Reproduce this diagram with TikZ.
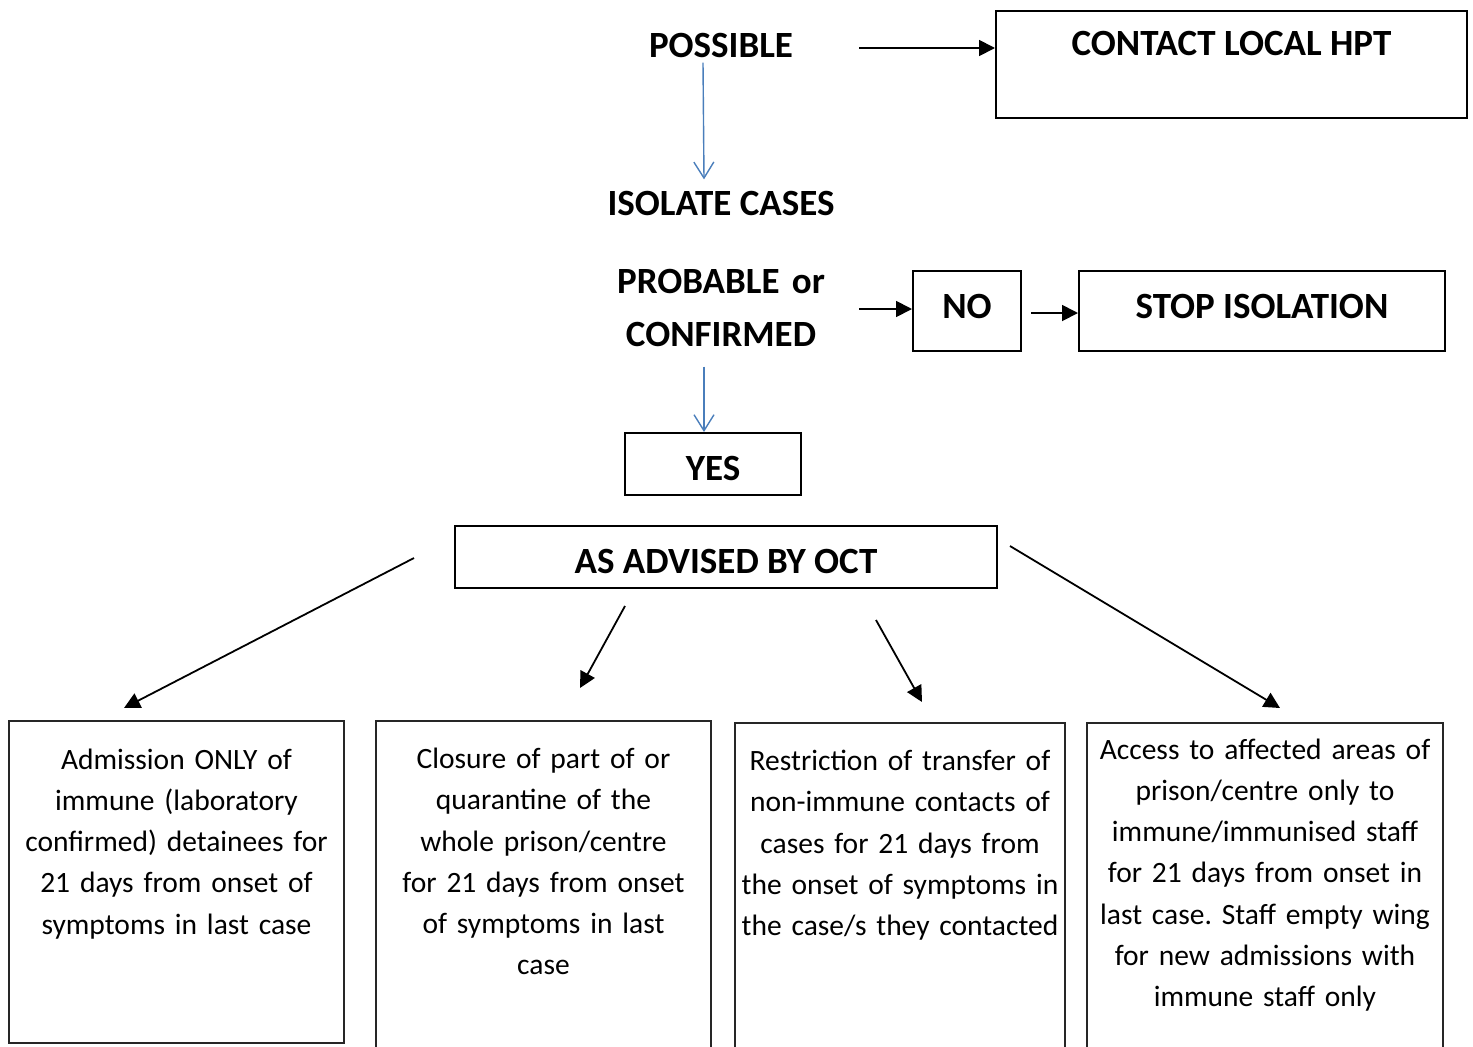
\documentclass[tikz,border=0pt]{standalone}
\usepackage{fontspec}
\setmainfont{Carlito}
\usetikzlibrary{arrows.meta, positioning, calc}
\definecolor{wordblue}{RGB}{74, 126, 187}
\frenchspacing

\newcommand{\stagefont}{\fontsize{18.5}{26.5}\selectfont\bfseries}
\newcommand{\measurefont}{\fontsize{14.75}{20.6}\selectfont}

\tikzset{
  stage/.style={font=\stagefont, inner sep=0pt, anchor=base},
  stagebox/.style={draw, line width=1pt, font=\stagefont, inner sep=0pt, anchor=north, text height=23.5pt},
  measure/.style={draw=black!85, line width=0.75pt, font=\measurefont, inner sep=0pt, anchor=north, align=center},
  flow/.style={-{Triangle[length=8pt, width=8pt]}, line width=0.9pt},
  bluestep/.style={-{Straight Barb[length=8pt, width=10pt]}, wordblue, line width=0.7pt}
}

\begin{document}
\begin{tikzpicture}[x=0.5pt, y=-0.5pt]
  \useasboundingbox (0,0) rectangle (1473,1046);

  % Case status
  \node[stage] (possible) at (721,57) {POSSIBLE};
  \node[stagebox, minimum width=235.5pt, text height=22pt, text depth=31.5pt] (contact) at (1231.5,10) {CONTACT LOCAL HPT};
  \node[stage] (isolate) at (721,215) {ISOLATE CASES};
  \node[stage, text width=104pt, align=center] (probable) at (721,293) {PROBABLE or\\CONFIRMED};
  \node[stagebox, minimum width=54pt, text depth=16.5pt] (no) at (967,270) {NO};
  \node[stagebox, minimum width=183pt, text depth=16.5pt] (stop) at (1262,270) {STOP ISOLATION};
  \node[stagebox, minimum width=88pt, text depth=7.5pt] (yes) at (713,432) {YES};
  \node[stagebox, minimum width=271pt, text depth=7.5pt] (oct) at (726,525) {AS ADVISED BY OCT};

  % Control measures
  \node[measure, text width=167.5pt, text height=24.25pt, text depth=136.75pt] (admission) at (176.5,720)
    {Admission ONLY of\\immune (laboratory\\confirmed) detainees for\\21 days from onset of\\symptoms in last case};
  \node[measure, text width=167.5pt, text height=24pt, text depth=146pt] (closure) at (543.5,720)
    {Closure of part of or\\quarantine of the\\whole prison/centre\\for 21 days from onset\\of symptoms in last\\case};
  \node[measure, text width=165pt, text height=24pt, text depth=145pt] (transfer) at (900,722)
    {Restriction of transfer of\\non-immune contacts of\\cases for 21 days from\\the onset of symptoms in\\the case/s they contacted};
  \node[measure, text width=178pt, text height=18.25pt, text depth=150pt] (access) at (1265,722)
    {Access to affected areas of\\prison/centre only to\\immune/immunised staff\\for 21 days from onset in\\last case. Staff empty wing\\for new admissions with\\immune staff only};

  % Arrows
  \coordinate (hpt-from) at ($(possible.east)+(66,3)$);
  \coordinate (no-from) at ($(probable.east)+(34,1.5)$);
  \coordinate (stop-from) at ($(no.east)+(9,2)$);
  \coordinate (isolate-from) at ($(possible.south)+(-18,5)$);
  \coordinate (yes-from) at ($(probable.south)+(-17,20)$);

  \draw[flow] (hpt-from) -- (hpt-from -| contact.west);
  \draw[flow] (no-from) -- (no-from -| no.west);
  \draw[flow] (stop-from) -- (stop-from -| stop.west);
  \draw[bluestep] (isolate-from) -- ($(isolate.north)+(-17,-11)$);
  \draw[bluestep] (yes-from) -- (yes-from |- yes.north);

  \draw[flow] ($(oct.west)+(-40,1)$) -- ($(admission.north)+(-52.5,-12)$);
  \draw[flow] ($(oct.south)+(-101,17)$) -- ($(closure.north)+(36.5,-32)$);
  \draw[flow] ($(oct.south)+(150,31)$) -- ($(transfer.north)+(22,-20)$);
  \draw[flow] ($(oct.east)+(12,-11)$) -- ($(access.north)+(15,-14)$);
\end{tikzpicture}
\end{document}
